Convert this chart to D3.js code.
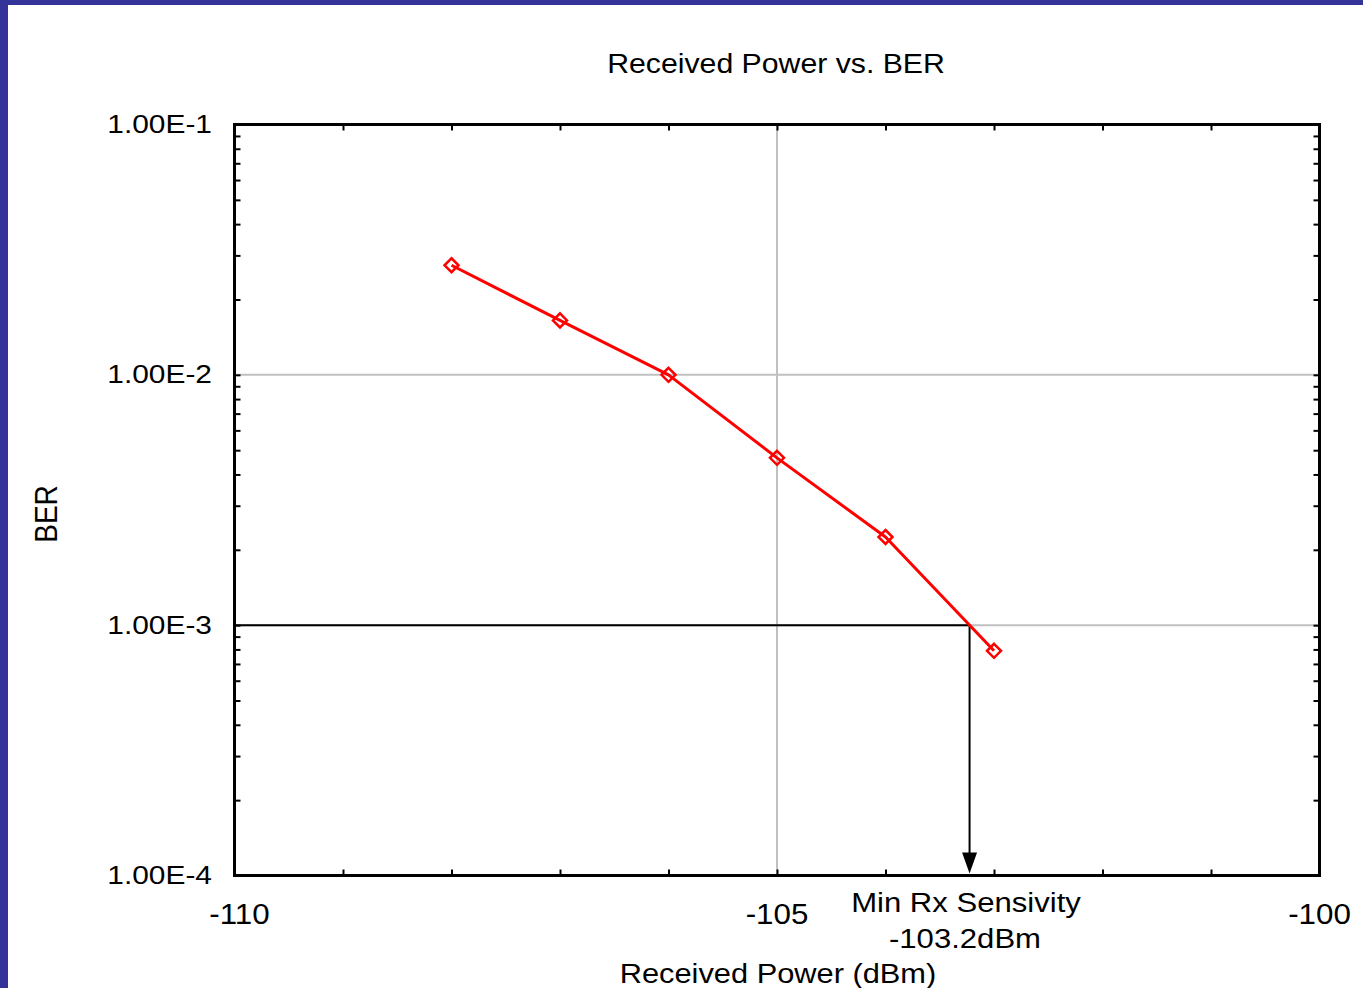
<!DOCTYPE html>
<html>
<head>
<meta charset="utf-8">
<script src="https://cdn.jsdelivr.net/npm/d3@7"></script>
<style>
  html, body { margin: 0; padding: 0; background: #fff; }
  svg { display: block; }
  text { font-family: "Liberation Sans", Arial, sans-serif; fill: #000; }
</style>
</head>
<body>
<svg id="chart" width="1363" height="988"></svg>
<script>
// Measured BER at each received power level
const powerDbm = [-108, -107, -106, -105, -104, -103];
const berValues = [2.74e-2, 1.65e-2, 1.0e-2, 4.66e-3, 2.25e-3, 7.9e-4];

// Axis ranges and labels
const xDomain = [-110, -100];
const yDomain = [1e-4, 1e-1];
const xTickValues = [-110, -105, -100];
const xTickLabels = ["-110", "-105", "-100"];
const yTickValues = [1e-1, 1e-2, 1e-3, 1e-4];
const yTickLabels = ["1.00E-1", "1.00E-2", "1.00E-3", "1.00E-4"];
const xGridValues = [-105];
const yGridValues = [1e-2, 1e-3];

const berThreshold = 1e-3;

const titleText = "Received Power vs. BER";
const xTitle = "Received Power (dBm)";
const yTitle = "BER";
const sensLabel = "Min Rx Sensivity";

const svg = d3.select("#chart");
const W = 1363, H = 988;
const plot = { left: 234.5, right: 1319.5, top: 124.5, bottom: 875.5 };

svg.append("rect").attr("width", W).attr("height", H).attr("fill", "#fff");
// slide frame on the left and top edges
svg.append("rect").attr("x", 0).attr("y", 0).attr("width", 8).attr("height", H).attr("fill", "#333399");
svg.append("rect").attr("x", 0).attr("y", 0).attr("width", W).attr("height", 5).attr("fill", "#333399");

const x = d3.scaleLinear().domain(xDomain).range([plot.left, plot.right]);
const y = d3.scaleLog().domain(yDomain).range([plot.bottom, plot.top]);

// grid lines
const grid = svg.append("g").attr("stroke", "#c0c0c0").attr("stroke-width", 2);
grid.selectAll("line.gx").data(xGridValues).join("line")
  .attr("x1", d => x(d)).attr("x2", d => x(d))
  .attr("y1", plot.top).attr("y2", plot.bottom);
grid.selectAll("line.gy").data(yGridValues).join("line")
  .attr("x1", plot.left).attr("x2", plot.right)
  .attr("y1", d => y(d)).attr("y2", d => y(d));

// inward ticks on all four sides
const xTicks = d3.range(xDomain[0], xDomain[1] + 1, 1);
const tickStyle = g => {
  g.select(".domain").remove();
  g.selectAll(".tick line").attr("stroke", "#000").attr("stroke-width", 2);
};
svg.append("g").attr("transform", `translate(0,${plot.bottom})`)
  .call(d3.axisBottom(x).tickValues(xTicks).tickSize(-6).tickFormat("")).call(tickStyle);
svg.append("g").attr("transform", `translate(0,${plot.top})`)
  .call(d3.axisTop(x).tickValues(xTicks).tickSize(-6).tickFormat("")).call(tickStyle);
svg.append("g").attr("transform", `translate(${plot.left},0)`)
  .call(d3.axisLeft(y).tickValues(y.ticks()).tickSize(-6).tickFormat("")).call(tickStyle);
svg.append("g").attr("transform", `translate(${plot.right},0)`)
  .call(d3.axisRight(y).tickValues(y.ticks()).tickSize(-6).tickFormat("")).call(tickStyle);

// sensitivity point: where the curve crosses the threshold BER
const ly = berValues.map(v => Math.log10(v));
const lt = Math.log10(berThreshold);
let sensDbm = powerDbm[powerDbm.length - 1];
for (let i = 0; i < powerDbm.length - 1; i++) {
  if (ly[i] >= lt && ly[i + 1] <= lt) {
    const t = (ly[i] - lt) / (ly[i] - ly[i + 1]);
    sensDbm = powerDbm[i] + t * (powerDbm[i + 1] - powerDbm[i]);
    break;
  }
}
const sx = x(sensDbm), sy = y(berThreshold);

// threshold line and arrow down to the axis
svg.append("line").attr("x1", plot.left).attr("x2", sx).attr("y1", sy).attr("y2", sy)
  .attr("stroke", "#000").attr("stroke-width", 2);
const arrowLen = 21, arrowHalf = 7.5;
svg.append("line").attr("x1", sx).attr("x2", sx).attr("y1", sy).attr("y2", plot.bottom - arrowLen)
  .attr("stroke", "#000").attr("stroke-width", 2);
svg.append("path")
  .attr("d", `M${sx - arrowHalf},${plot.bottom - arrowLen - 2}L${sx + arrowHalf},${plot.bottom - arrowLen - 2}L${sx},${plot.bottom - 2}Z`)
  .attr("fill", "#000");

// frame
svg.append("rect")
  .attr("x", plot.left).attr("y", plot.top)
  .attr("width", plot.right - plot.left).attr("height", plot.bottom - plot.top)
  .attr("fill", "none").attr("stroke", "#000").attr("stroke-width", 3);

// BER curve
const pts = powerDbm.map((p, i) => [x(p), y(berValues[i])]);
svg.append("path").datum(pts)
  .attr("d", d3.line())
  .attr("fill", "none").attr("stroke", "#ff0000").attr("stroke-width", 3)
  .attr("stroke-linejoin", "round");
const r = 7;
svg.selectAll("path.mk").data(pts).join("path")
  .attr("class", "mk")
  .attr("d", d => `M${d[0]},${d[1] - r}L${d[0] + r},${d[1]}L${d[0]},${d[1] + r}L${d[0] - r},${d[1]}Z`)
  .attr("fill", "none").attr("stroke", "#ff0000").attr("stroke-width", 2.5);

// text helper: places text at (tx, ty) with a horizontal stretch
function label(str, tx, ty, size, stretch, anchor, rotate) {
  const g = svg.append("g")
    .attr("transform", `translate(${tx},${ty}) scale(${stretch},1)` + (rotate ? ` rotate(${rotate})` : ""));
  g.append("text").attr("text-anchor", anchor).attr("font-size", size).text(str);
}

label(titleText, 776, 73, 28, 1.08, "middle");

yTickValues.forEach((v, i) => label(yTickLabels[i], 212, y(v) + 8.5, 26, 1.15, "end"));
xTickValues.forEach((v, i) => label(xTickLabels[i], x(v) + (i === 0 ? 5 : 0), 924, 29, 1.08, "middle"));

label(xTitle, 778, 983, 28, 1.1, "middle");
label(yTitle, 57, 514, 28, 1.12, "middle", -90);

label(sensLabel, 966, 912, 28, 1.11, "middle");
label(sensDbm.toFixed(1) + "dBm", 965, 948, 28, 1.11, "middle");
</script>
</body>
</html>
